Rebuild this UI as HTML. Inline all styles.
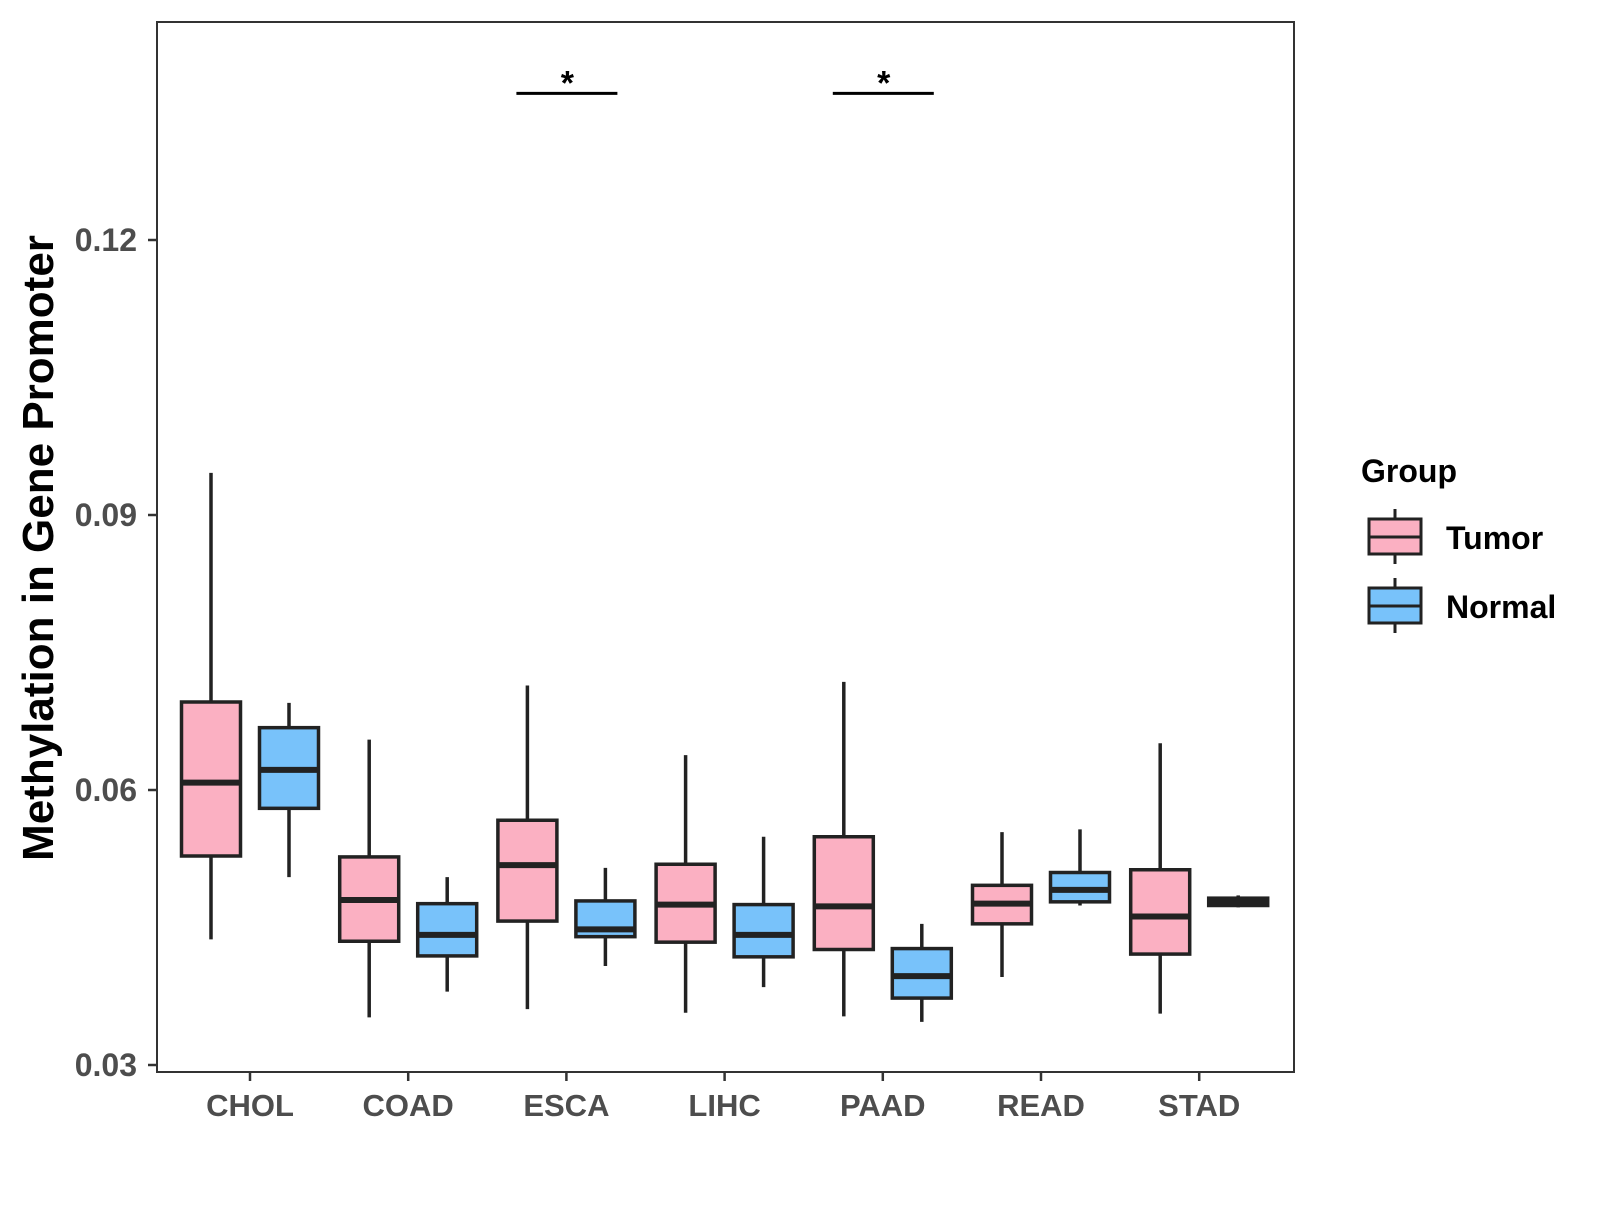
<!DOCTYPE html>
<html><head><meta charset="utf-8"><style>
html,body{margin:0;padding:0;background:#fff;}
svg text{font-family:"Liberation Sans",Arial,sans-serif;font-weight:bold;}
</style></head><body>
<svg id="chart" width="1600" height="1200" viewBox="0 0 1600 1200" xmlns="http://www.w3.org/2000/svg">
<rect x="157" y="22" width="1137" height="1050" fill="#fff" stroke="#333" stroke-width="2"/>
<g id="axes"></g><g id="boxes"></g><g id="sig"></g>
<text transform="translate(53,548) rotate(-90)" text-anchor="middle" font-size="44" fill="#000">Methylation in Gene Promoter</text>
<g>
<text x="1361" y="482" font-size="32" fill="#000">Group</text>
<g>
<line x1="1395" y1="509" x2="1395" y2="564" stroke="#222" stroke-width="3"/>
<rect x="1369" y="519" width="52" height="35" fill="#FBB0C2" stroke="#222" stroke-width="3"/>
<line x1="1369" y1="537" x2="1421" y2="537" stroke="#222" stroke-width="3"/>
<text x="1446" y="549" font-size="32" fill="#000">Tumor</text></g>
<g>
<line x1="1395" y1="578" x2="1395" y2="633" stroke="#222" stroke-width="3"/>
<rect x="1369" y="588" width="52" height="35" fill="#78C2FA" stroke="#222" stroke-width="3"/>
<line x1="1369" y1="606" x2="1421" y2="606" stroke="#222" stroke-width="3"/>
<text x="1446" y="618" font-size="32" fill="#000">Normal</text></g>
</g>
</svg>
<script>
const categories=["CHOL","COAD","ESCA","LIHC","PAAD","READ","STAD"];
const yTicks=[0.03,0.06,0.09,0.12];
const yTickLabels=["0.03","0.06","0.09","0.12"];
// [low, q1, median, q3, high]
const tumorStats=[[0.0437,0.0528,0.0608,0.0696,0.0946],[0.0352,0.0435,0.0480,0.0527,0.0655],[0.0361,0.0457,0.0518,0.0567,0.0714],[0.0357,0.0434,0.0475,0.0519,0.0638],[0.0353,0.0426,0.0473,0.0549,0.0718],[0.0396,0.0454,0.0476,0.0496,0.0554],[0.0356,0.0421,0.0462,0.0513,0.0651]];
const normalStats=[[0.0505,0.0580,0.0622,0.0668,0.0695],[0.0380,0.0419,0.0442,0.0476,0.0505],[0.0408,0.0440,0.0448,0.0479,0.0515],[0.0385,0.0418,0.0442,0.0475,0.0549],[0.0347,0.0373,0.0397,0.0427,0.0454],[0.0474,0.0478,0.0491,0.0510,0.0557],[0.0472,0.0474,0.0478,0.0482,0.0485]];
const sigCategories=["ESCA","PAAD"];
const sigLabels=["*","*"];
const sigLevel=0.1360;
const NS="http://www.w3.org/2000/svg";
function yS(v){return 1065-(v-0.03)/0.03*275;}
function xS(i){return 250+i*158.2;}
function mk(t,a,p){const e=document.createElementNS(NS,t);for(const k in a)e.setAttribute(k,a[k]);p.appendChild(e);return e;}
const ax=document.getElementById('axes');
yTicks.forEach((v,i)=>{
 const l=mk('line',{x1:148,x2:157,y1:yS(v),y2:yS(v),stroke:'#333','stroke-width':2.5},ax);
 
 
 const t=mk('text',{x:137,y:yS(v)+11,'text-anchor':'end','font-size':32,fill:'#4d4d4d'},ax);
 t.textContent=yTickLabels[i];
 
 
});
categories.forEach((c,i)=>{
 const l=mk('line',{x1:xS(i),x2:xS(i),y1:1072,y2:1081,stroke:'#333','stroke-width':2.5},ax);
 
 
 const t=mk('text',{x:xS(i),y:1116,'text-anchor':'middle','font-size':31,fill:'#4d4d4d'},ax);
 t.textContent=c;
 
 
});
const bx=document.getElementById('boxes');
function box(s,cx,fill,name){
 const g=mk('g',{},bx);
 
 
 mk('line',{x1:cx,x2:cx,y1:yS(s[0]),y2:yS(s[4]),stroke:'#222','stroke-width':3.5},g);
 const w=59;
 mk('rect',{x:cx-w/2,y:yS(s[3]),width:w,height:Math.max(yS(s[1])-yS(s[3]),1),fill:fill,stroke:'#222','stroke-width':3.5},g);
 mk('line',{x1:cx-w/2,x2:cx+w/2,y1:yS(s[2]),y2:yS(s[2]),stroke:'#222','stroke-width':6},g);
}
categories.forEach((c,i)=>{
 box(tumorStats[i],xS(i)-39,'#FBB0C2','box-tumor-'+c.toLowerCase());
 box(normalStats[i],xS(i)+39,'#78C2FA','box-normal-'+c.toLowerCase());
});
const sg=document.getElementById('sig');
sigCategories.forEach((c,k)=>{
 const i=categories.indexOf(c);
 const l=mk('line',{x1:xS(i)-50,x2:xS(i)+51,y1:yS(sigLevel),y2:yS(sigLevel),stroke:'#000','stroke-width':3},sg);
 
 
 const t=mk('text',{x:xS(i)+1,y:yS(sigLevel)+1,'text-anchor':'middle','font-size':34,fill:'#000'},sg);
 t.textContent=sigLabels[k];
 
 
});
</script>
</body></html>
